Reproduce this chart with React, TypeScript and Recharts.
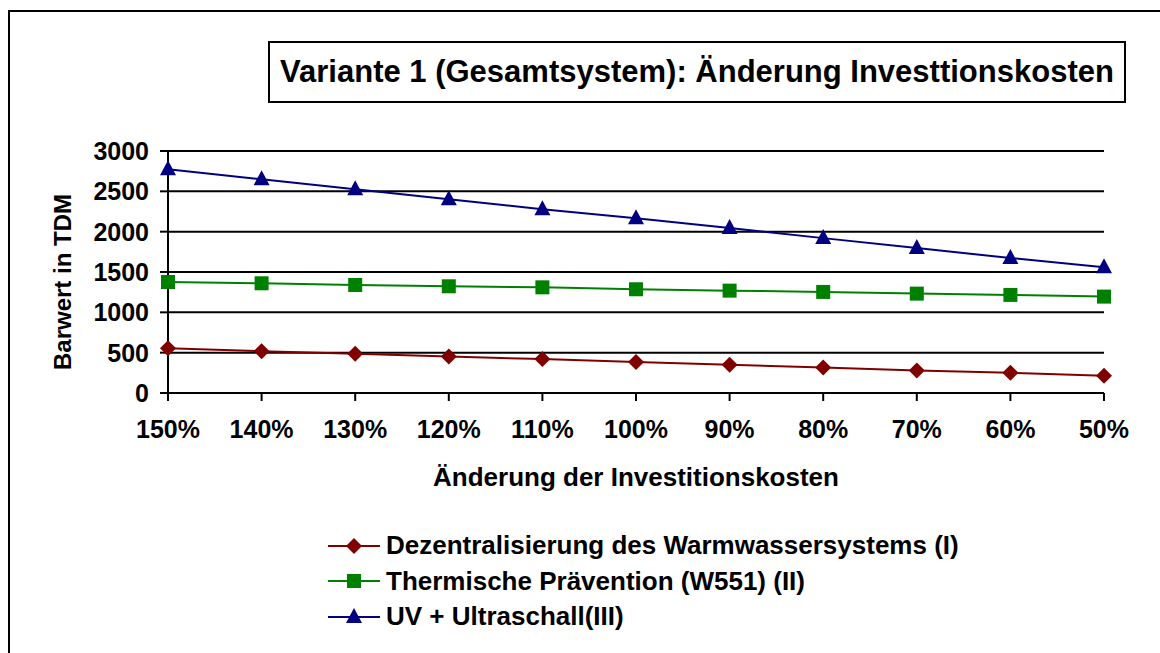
import React from 'react';
import { LineChart, Line, XAxis, YAxis, CartesianGrid } from 'recharts';

// Kategorien und Werte (Barwert in TDM)
const categories = ['150%', '140%', '130%', '120%', '110%', '100%', '90%', '80%', '70%', '60%', '50%'];
const dezentral = [556, 519, 486, 453, 420, 383, 350, 317, 280, 251, 214];
const thermisch = [1376, 1360, 1339, 1323, 1310, 1286, 1269, 1253, 1232, 1216, 1195];
const uvUltraschall = [2773, 2650, 2526, 2402, 2279, 2167, 2044, 1920, 1797, 1673, 1558];
const yTicks = [0, 500, 1000, 1500, 2000, 2500, 3000];

const chartData = categories.map((c, i) => ({
  name: c,
  s1: dezentral[i],
  s2: thermisch[i],
  s3: uvUltraschall[i],
}));

const FONT = '"Liberation Sans", Arial, sans-serif';

const series = [
  { key: 's1', label: 'Dezentralisierung des Warmwassersystems (I)', color: '#800000', shape: 'diamond' },
  { key: 's2', label: 'Thermische Prävention (W551) (II)', color: '#008000', shape: 'square' },
  { key: 's3', label: 'UV + Ultraschall(III)', color: '#000080', shape: 'triangle' },
];

const Marker = ({ cx, cy, shape, color }: { cx: number; cy: number; shape: string; color: string }) => {
  if (shape === 'diamond') {
    return <path d={`M${cx},${cy - 8}L${cx + 8},${cy}L${cx},${cy + 8}L${cx - 8},${cy}Z`} fill={color} />;
  }
  if (shape === 'square') {
    return <rect x={cx - 7} y={cy - 7} width={14} height={14} fill={color} />;
  }
  return <path d={`M${cx},${cy - 9}L${cx + 8},${cy + 6}L${cx - 8},${cy + 6}Z`} fill={color} />;
};

export default function App() {
  return (
    <div style={{ position: 'absolute', left: 0, top: 0, width: 1160, height: 653, background: '#fff', overflow: 'hidden', fontFamily: FONT }}>
      {/* Rahmen */}
      <div style={{ position: 'absolute', left: 8, top: 10, width: 1200, height: 700, borderLeft: '2px solid #000', borderTop: '2px solid #000' }} />

      {/* Titel */}
      <div
        style={{
          position: 'absolute', left: 268, top: 41, width: 854, height: 58,
          border: '2px solid #000', display: 'flex', alignItems: 'center', justifyContent: 'center',
          fontWeight: 'bold', fontSize: 31, color: '#000', whiteSpace: 'nowrap',
        }}
      >
        Variante 1 (Gesamtsystem): Änderung Investtionskosten
      </div>

      <div style={{ position: 'absolute', left: 0, top: 0 }}>
        <LineChart width={1160} height={653} data={chartData} margin={{ top: 151, right: 56, left: 58, bottom: 200 }}>
          <CartesianGrid vertical={false} stroke="#000" strokeWidth={2} />
          <XAxis
            dataKey="name"
            height={60}
            stroke="#000"
            strokeWidth={2}
            tickSize={8}
            tickMargin={19}
            tick={{ fill: '#000', fontSize: 25, fontWeight: 'bold', fontFamily: FONT }}
            interval={0}
            label={{
              content: (props: any) => {
                const vb = props.viewBox;
                return (
                  <text x={vb.x + vb.width / 2} y={vb.y + 93} textAnchor="middle" fontSize={26} fontWeight="bold" fontFamily={FONT} fill="#000">
                    Änderung der Investitionskosten
                  </text>
                );
              },
            }}
          />
          <YAxis
            width={110}
            domain={[0, 3000]}
            ticks={yTicks}
            stroke="#000"
            strokeWidth={2}
            tickSize={8}
            tickMargin={11}
            tick={{ fill: '#000', fontSize: 25, fontWeight: 'bold', fontFamily: FONT }}
            label={{
              content: (props: any) => {
                const cy = 282;
                return (
                  <text x={71} y={cy} transform={`rotate(-90 71 ${cy})`} textAnchor="middle" fontSize={24} fontWeight="bold" fontFamily={FONT} fill="#000">
                    Barwert in TDM
                  </text>
                );
              },
            }}
          />
          {series.map((s) => (
            <Line
              key={s.key}
              dataKey={s.key}
              type="linear"
              stroke={s.color}
              strokeWidth={2}
              isAnimationActive={false}
              dot={(p: any) => <Marker key={`${s.key}-${p.index}`} cx={p.cx} cy={p.cy} shape={s.shape} color={s.color} />}
              activeDot={false}
            />
          ))}
        </LineChart>
      </div>

      {/* Legende */}
      <div style={{ position: 'absolute', left: 326, top: 528 }}>
        {series.map((s) => (
          <div key={s.key} style={{ display: 'flex', alignItems: 'center', height: 35.5 }}>
            <svg width={56} height={24} style={{ marginRight: 4 }}>
              <line x1={2} y1={12} x2={54} y2={12} stroke={s.color} strokeWidth={2} />
              <Marker cx={28} cy={12} shape={s.shape} color={s.color} />
            </svg>
            <span style={{ fontSize: 26, fontWeight: 'bold', color: '#000', whiteSpace: 'nowrap' }}>{s.label}</span>
          </div>
        ))}
      </div>
    </div>
  );
}
